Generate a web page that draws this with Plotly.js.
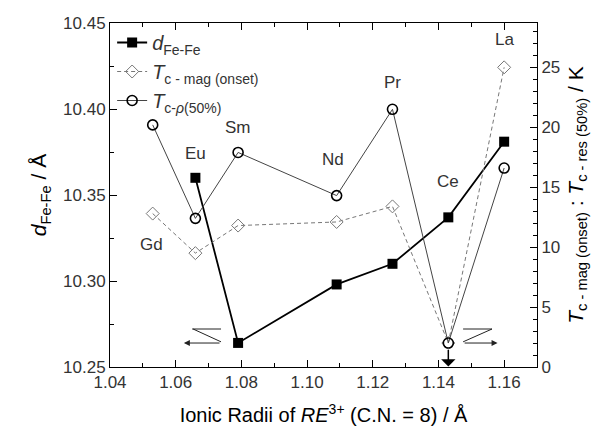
<!DOCTYPE html>
<html>
<head>
<meta charset="utf-8">
<script src="https://cdn.plot.ly/plotly-3.0.1.min.js"></script>
<style>html,body{margin:0;padding:0;background:#fff}#chart{width:609px;height:435px}</style>
</head>
<body>
<div id="chart"></div>
<script>
// ---- data ----
const radii    = [1.053, 1.066, 1.079, 1.109, 1.126, 1.143, 1.160];
const elements = ['Gd', 'Eu', 'Sm', 'Nd', 'Pr', 'Ce', 'La'];
const dFeFe    = [null, 10.360, 10.264, 10.298, 10.310, 10.337, 10.381];
const tcMag    = [12.8, 9.5, 11.8, 12.1, 13.4, 2.0, 25.0];
const tcRes    = [20.2, 12.4, 17.9, 14.3, 21.5, 2.0, 16.6];
const xTicks   = [1.04, 1.06, 1.08, 1.10, 1.12, 1.14, 1.16];
const yTicks   = [10.25, 10.30, 10.35, 10.40, 10.45];
const y2Ticks  = [0, 5, 10, 15, 20, 25];

// label placement (left-axis units) for element names
const labelPos = {Gd:[1.0525,10.321], Eu:[1.066,10.374], Sm:[1.079,10.3895], Nd:[1.108,10.3708],
                  Pr:[1.126,10.4157], Ce:[1.143,10.358], La:[1.160,10.4407]};

const FONT = 'Arial, "Liberation Sans", sans-serif';
const TXT = '#333';

const traces = [
  {x: radii, y: dFeFe, type:'scatter', mode:'lines+markers', name:'<i>d</i><sub>Fe-Fe</sub>',
   line:{color:'#000', width:1.8}, marker:{symbol:'square', size:10, color:'#000'}, yaxis:'y'},
  {x: radii, y: tcMag, type:'scatter', mode:'lines+markers', name:'<i>T</i><sub>c - mag (onset)</sub>',
   line:{color:'#777', width:1, dash:'4px,3px'}, marker:{symbol:'diamond-open', size:10, color:'#777', line:{width:1}}, yaxis:'y2'},
  {x: radii, y: tcRes, type:'scatter', mode:'lines+markers', name:'<i>T</i><sub>c-<i>ρ</i>(50%)</sub>',
   line:{color:'#444', width:1}, marker:{symbol:'circle-open', size:10, color:'#000', line:{width:1.6}}, yaxis:'y2'}
];

const annotations = elements.map(e => ({
  x: labelPos[e][0], y: labelPos[e][1], xref:'x', yref:'y', text:e, showarrow:false,
  font:{family:FONT, size:17, color:TXT}
}));
// axis-direction arrows
annotations.push({x:1.0625, y:2.0, ax:1.0738, ay:2.0, xref:'x', yref:'y2', axref:'x', ayref:'y2',
  text:'', showarrow:true, arrowhead:2, arrowsize:1.2, arrowwidth:1, arrowcolor:'#222'});
annotations.push({x:1.1580, y:2.0, ax:1.1475, ay:2.0, xref:'x', yref:'y2', axref:'x', ayref:'y2',
  text:'', showarrow:true, arrowhead:2, arrowsize:1.2, arrowwidth:1, arrowcolor:'#222'});
// upper-limit arrow at Ce
annotations.push({x:radii[5], y:0.05, ax:radii[5], ay:1.55, xref:'x', yref:'y2', axref:'x', ayref:'y2',
  text:'', showarrow:true, arrowhead:1, arrowsize:1.6, arrowwidth:1.5, arrowcolor:'#000'});

const shapes = [
  {type:'path', xref:'x', yref:'y2', path:'M1.0650,3.17 L1.0738,3.17 M1.0653,3.17 L1.0738,2.1', line:{color:'#222', width:1}},
  {type:'path', xref:'x', yref:'y2', path:'M1.1475,3.17 L1.1563,3.17 L1.1475,2.1', line:{color:'#222', width:1}}
];

const axisCommon = {showline:true, linecolor:'#000', linewidth:1, ticks:'inside', tickcolor:'#000',
  ticklen:7, showgrid:false, zeroline:false, tickfont:{family:FONT, size:17, color:TXT}};

const layout = {
  width:609, height:435,
  margin:{l:110, r:72, t:23, b:68},
  paper_bgcolor:'#fff', plot_bgcolor:'#fff',
  font:{family:FONT, color:TXT},
  showlegend:true,
  legend:{x:0.005, y:1.0, xanchor:'left', yanchor:'top', bgcolor:'rgba(0,0,0,0)',
    font:{family:FONT, size:20, color:TXT}, tracegroupgap:0, itemwidth:30},
  xaxis: Object.assign({}, axisCommon, {
    range:[1.04, 1.17], tickvals:xTicks, tickformat:'.2f', mirror:'ticks',
    minor:{dtick:0.01, tick0:1.04, ticks:'inside', ticklen:4, tickcolor:'#000'},
    title:{text:'Ionic Radii of <i>RE</i><sup>3+</sup> (C.N. = 8) / Å', font:{family:FONT, size:20, color:'#000'}, standoff:16}
  }),
  yaxis: Object.assign({}, axisCommon, {
    range:[10.25, 10.45], tickvals:yTicks, tickformat:'.2f',
    minor:{dtick:0.025, tick0:10.25, ticks:'inside', ticklen:4, tickcolor:'#000'},
    title:{text:'<i>d</i><sub>Fe-Fe</sub> / Å', font:{family:FONT, size:21, color:'#000'}, standoff:10}
  }),
  yaxis2: Object.assign({}, axisCommon, {
    overlaying:'y', side:'right', range:[0, 28.7], tickvals:y2Ticks,
    minor:{dtick:1, tick0:0, ticks:'inside', ticklen:4, tickcolor:'#000'},
    title:{text:'<i>T</i><sub>c - mag (onset)</sub> : <i>T</i><sub>c - res (50%)</sub> / K', font:{family:FONT, size:21, color:'#000'}, standoff:8}
  }),
  annotations: annotations,
  shapes: shapes
};

Plotly.newPlot('chart', traces, layout, {displayModeBar:false, staticPlot:true});
</script>
</body>
</html>
